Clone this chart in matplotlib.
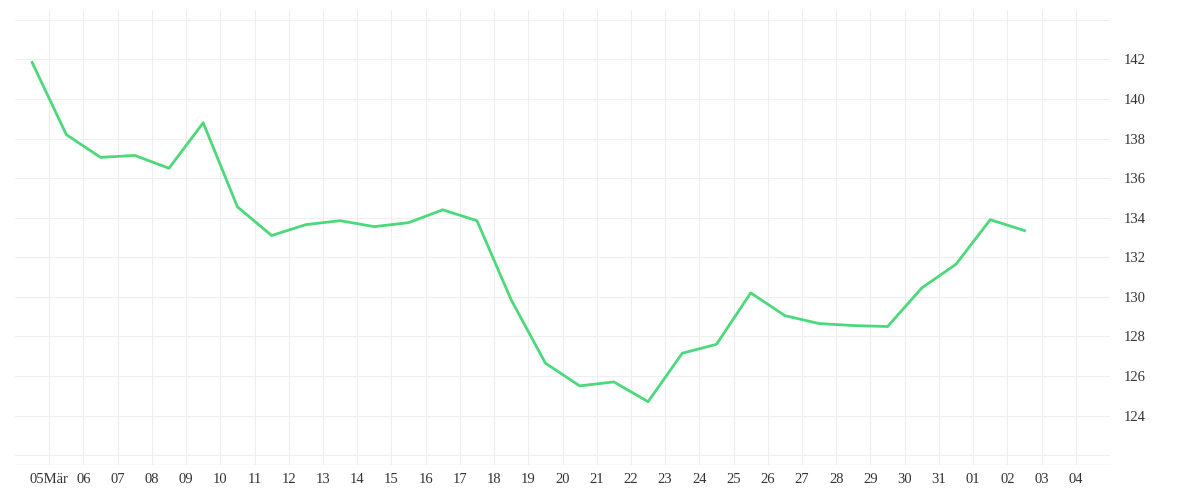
import matplotlib
matplotlib.use('Agg')
from matplotlib import pyplot as plt

## data
day_labels = ['05Mär', '06', '07', '08', '09', '10', '11', '12', '13', '14', '15', '16',
              '17', '18', '19', '20', '21', '22', '23', '24', '25', '26', '27', '28',
              '29', '30', '31', '01', '02', '03', '04']
values = [141.85, 138.2, 137.05, 137.15, 136.5, 138.8, 134.55, 133.1, 133.65, 133.85,
          133.55, 133.75, 134.4, 133.85, 129.85, 126.65, 125.5, 125.7, 124.7, 127.15,
          127.6, 130.2, 129.05, 128.65, 128.55, 128.5, 130.45, 131.65, 133.9, 133.35]
y_ticks = [124, 126, 128, 130, 132, 134, 136, 138, 140, 142]

plt.rcParams['font.family'] = ['Liberation Serif', 'DejaVu Serif']

fig = plt.figure(figsize=(12, 5), dpi=100)
ax = fig.add_axes([0.0125, 0.07, 0.9125, 0.91])

xs = [i - 0.5 for i in range(len(values))]
ax.plot(xs, values, color='#4cd97b', lw=2)

ax.set_xlim(-1, 31)
ax.set_ylim(121.5, 144.5)
ax.set_xticks(range(len(day_labels)))
ax.set_xticklabels(day_labels, fontsize=10.5, color='#333333')
ax.set_yticks(list(range(122, 145, 2)))
ax.set_yticklabels([str(v) if v in y_ticks else '' for v in range(122, 145, 2)],
                   fontsize=10.5, color='#333333')
ax.yaxis.tick_right()
ax.tick_params(axis='both', length=0, pad=6)
ax.tick_params(axis='y', pad=10)
ax.grid(True, color='#eeeeee', lw=0.8)
for s in ax.spines.values():
    s.set_visible(False)
ax.axhline(121.5, color='#dddddd', lw=1)

fig.savefig('out.png')
